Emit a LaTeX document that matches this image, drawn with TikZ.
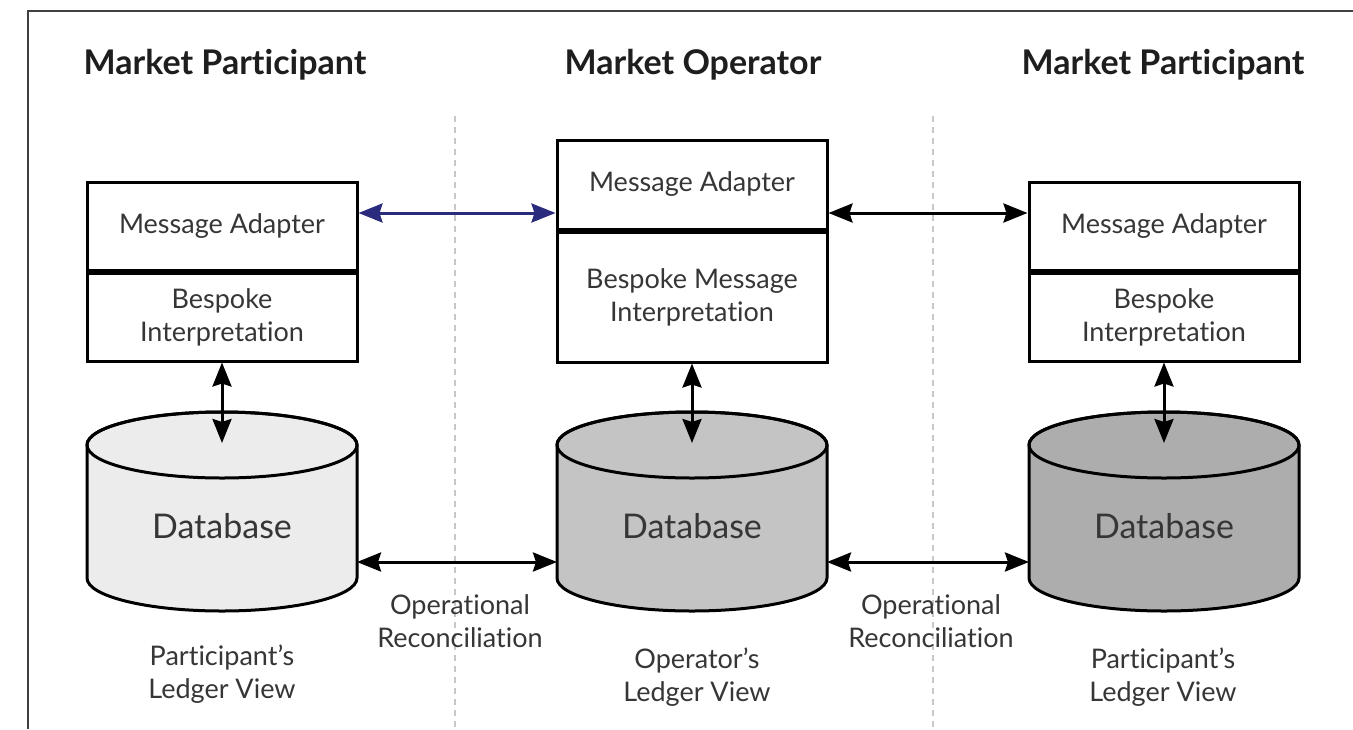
\documentclass[tikz,border=0pt]{standalone}
\usepackage{fontspec}
\setmainfont{Lato}[Ligatures={NoCommon}]
\usetikzlibrary{arrows.meta}
\definecolor{txt}{HTML}{363636}
\definecolor{ttl}{HTML}{1E1E1E}
\definecolor{navy}{HTML}{2B2B7E}
\definecolor{dbA}{HTML}{ECECEC}
\definecolor{dbB}{HTML}{C4C4C4}
\definecolor{dbC}{HTML}{ADADAD}
\definecolor{sep}{HTML}{C8C8C8}
\begin{document}
\begin{tikzpicture}[x=1pt,y=1pt,
  title/.style={font=\fontsize{34}{40}\selectfont\bfseries, text=ttl},
  boxpart/.style={draw=black, line width=3pt, fill=white, minimum width=270pt, inner sep=0pt, text=txt, align=center, font=\fontsize{27}{33}\selectfont},
  lbl/.style={text=txt, align=center, font=\fontsize{27}{33}\selectfont},
  dblbl/.style={text=txt, font=\fontsize{34}{40}\selectfont},
  conn/.style={line width=3pt, {Stealth[length=24pt,width=19pt,inset=3pt]}-{Stealth[length=24pt,width=19pt,inset=3pt]}},
  sepline/.style={draw=sep, line width=2pt, dash pattern=on 6pt off 5pt},
  cyl/.style={draw=black, line width=3pt}
]
\useasboundingbox (0,0) rectangle (1353,-729);
\fill[white] (0,0) rectangle (1353,-729);
% frame
\draw[line width=2.5pt, draw=black!75] (28,-729) -- (28,-11) -- (1353,-11);
% separators
\draw[sepline] (455,-116) -- (455,-729);
\draw[sepline] (933,-116) -- (933,-729);
% titles
\node[title] (t1) at (225,-65) {Market Participant};
\node[title] (t2) at (693,-65) {Market Operator};
\node[title] (t3) at (1163,-65) {Market Participant};
% boxes
\node[boxpart, minimum height=88pt] (ma1) at (222,-226) {Message Adapter};
\node[boxpart, minimum height=88pt, anchor=north] (bi1) at (ma1.south) {Bespoke\\Interpretation};
\node[boxpart, minimum height=89pt] (ma2) at (692,-184.5) {Message Adapter};
\node[boxpart, minimum height=130pt, anchor=north] (bi2) at (ma2.south) {Bespoke Message\\Interpretation};
\node[boxpart, minimum height=88pt] (ma3) at (1164,-226) {Message Adapter};
\node[boxpart, minimum height=88pt, anchor=north] (bi3) at (ma3.south) {Bespoke\\Interpretation};
% cylinders
\foreach \cx/\col/\n in {222/dbA/1, 692/dbB/2, 1164/dbC/3}{
  \filldraw[cyl, fill=\col] (\cx-135,-445) -- (\cx-135,-578)
     arc[start angle=180, end angle=360, x radius=135, y radius=33]
     -- (\cx+135,-445)
     arc[start angle=0, end angle=180, x radius=135, y radius=33] -- cycle;
  \draw[cyl] (\cx,-445) ellipse[x radius=135, y radius=33];
  \node[dblbl] (db\n) at (\cx,-526) {Database};
  \coordinate (top\n) at (\cx,-443);
  \coordinate (dl\n) at (\cx-135,-562);
  \coordinate (dr\n) at (\cx+135,-562);
}
% arrows
\coordinate (hA) at (0,-213);
\draw[conn, draw=navy, fill=navy] (ma1.east |- hA) -- (ma2.west |- hA);
\draw[conn] (ma2.east |- hA) -- (ma3.west |- hA);
\draw[conn] (bi1.south) -- (top1);
\draw[conn] (bi2.south) -- (top2);
\draw[conn] (bi3.south) -- (top3);
\draw[conn] (dr1) -- (dl2);
\draw[conn] (dr2) -- (dl3);
% labels
\node[lbl] (or1) at (460,-621) {Operational\\Reconciliation};
\node[lbl] (or2) at (931,-621) {Operational\\Reconciliation};
\node[lbl] (lv1) at (222,-674) {Participant’s\\Ledger View};
\node[lbl] (lv2) at (697,-677) {Operator’s\\Ledger View};
\node[lbl] (lv3) at (1163,-677) {Participant’s\\Ledger View};
\end{tikzpicture}
\end{document}
